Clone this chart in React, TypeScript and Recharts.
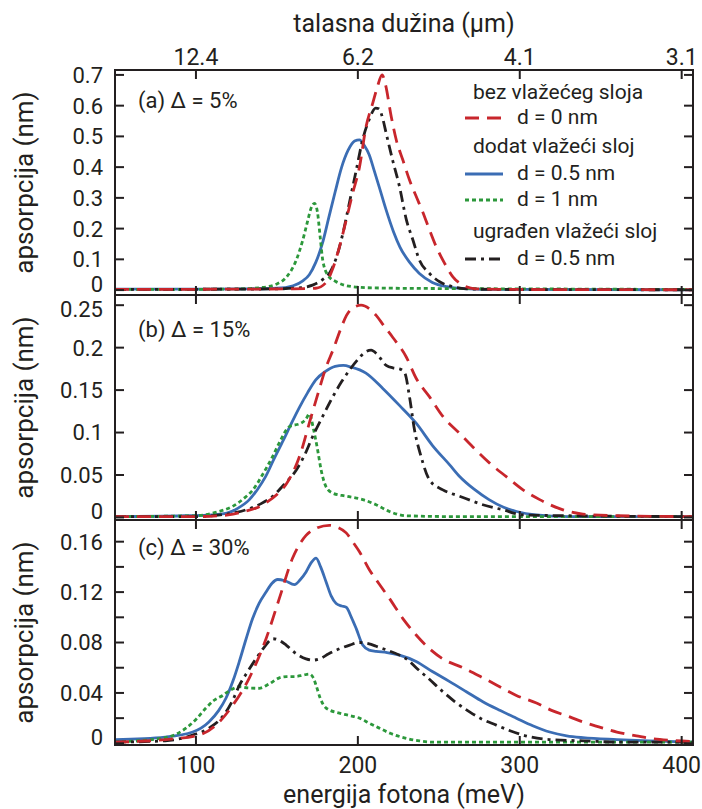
import React from 'react';
import { LineChart, Line, XAxis, YAxis } from 'recharts';

type Pt = [number, number];

// energy axis (meV) and the matching wavelength labels (µm) on the top axis
const energyTicks = [100, 200, 300, 400];
const wavelengthLabels = ['12.4', '6.2', '4.1', '3.1'];

const aTicks = [0, 0.1, 0.2, 0.3, 0.4, 0.5, 0.6, 0.7];
const aTickLabels = ['0', '0.1', '0.2', '0.3', '0.4', '0.5', '0.6', '0.7'];
const bTicks = [0, 0.05, 0.1, 0.15, 0.2, 0.25];
const bTickLabels = ['0', '0.05', '0.1', '0.15', '0.2', '0.25'];
const cTicks = [0, 0.02, 0.04, 0.06, 0.08, 0.1, 0.12, 0.14, 0.16];
const cTickLabels = ['0', '', '0.04', '', '0.08', '', '0.12', '', '0.16'];

const panelLabels = ['(a) Δ = 5%', '(b) Δ = 15%', '(c) Δ = 30%'];

// panel (a), Δ = 5%  — [energy meV, absorption nm]
const aBare: Pt[] = [[50, 0.002], [120, 0.003], [160, 0.004], [174, 0.006], [180.4, 0.025], [184.5, 0.07], [188.6, 0.14], [192.8, 0.228], [196.8, 0.315], [201, 0.4], [205, 0.53], [209.2, 0.608], [212, 0.66], [215, 0.7], [217, 0.67], [220.6, 0.565], [223.7, 0.489], [227.8, 0.423], [231.9, 0.358], [236, 0.305], [240, 0.255], [244.3, 0.195], [248.4, 0.141], [253.6, 0.087], [258.7, 0.043], [264.9, 0.016], [273, 0.004], [300, 0.002], [407, 0.001]];
const aAdded05: Pt[] = [[50, 0.003], [100, 0.003], [130, 0.004], [150, 0.006], [160, 0.014], [166, 0.03], [170, 0.05], [174, 0.09], [178, 0.15], [182, 0.235], [186, 0.32], [190, 0.4], [194, 0.455], [198, 0.485], [201, 0.489], [204, 0.47], [207, 0.44], [210, 0.39], [213.5, 0.33], [217.5, 0.26], [222, 0.19], [226, 0.14], [232, 0.09], [238, 0.054], [246, 0.025], [255, 0.011], [265, 0.005], [290, 0.002], [407, 0.001]];
const aAdded1: Pt[] = [[50, 0.002], [120, 0.003], [140, 0.008], [150, 0.02], [156, 0.043], [162, 0.098], [166, 0.163], [169, 0.225], [171, 0.265], [173.2, 0.282], [175, 0.255], [176.7, 0.174], [178.3, 0.098], [181.4, 0.049], [186.6, 0.027], [197, 0.011], [210, 0.007], [250, 0.005], [300, 0.004], [407, 0.002]];
const aEmbedded05: Pt[] = [[50, 0.002], [120, 0.003], [150, 0.004], [165, 0.008], [172, 0.016], [178, 0.033], [183, 0.06], [187, 0.11], [191, 0.19], [195, 0.29], [199, 0.39], [203, 0.49], [207, 0.555], [211, 0.592], [213, 0.59], [215.5, 0.555], [217.5, 0.51], [221.6, 0.42], [225.7, 0.337], [229.9, 0.23], [234, 0.163], [238, 0.098], [244.3, 0.054], [250.5, 0.027], [258.7, 0.011], [267, 0.004], [290, 0.002], [407, 0.001]];

// panel (b), Δ = 15%
const bBare: Pt[] = [[50, 0.001], [100, 0.001], [120, 0.003], [130, 0.007], [137, 0.011], [143, 0.017], [150, 0.027], [156, 0.04], [164, 0.072], [170, 0.111], [176, 0.15], [180, 0.175], [185, 0.199], [190, 0.225], [193, 0.238], [197, 0.247], [202, 0.25], [207, 0.246], [211.3, 0.238], [216, 0.226], [221.6, 0.212], [229.9, 0.189], [236, 0.164], [244.3, 0.142], [252.5, 0.119], [262.8, 0.099], [271, 0.083], [281.4, 0.064], [291.7, 0.048], [302, 0.0325], [312.3, 0.021], [326.7, 0.009], [339, 0.004], [360, 0.002], [407, 0.001]];
const bAdded05: Pt[] = [[50, 0.001], [93, 0.002], [110, 0.003], [119, 0.005], [126, 0.011], [133, 0.021], [138, 0.033], [143, 0.048], [148, 0.068], [154, 0.091], [159, 0.111], [164, 0.13], [169, 0.147], [174, 0.162], [180, 0.172], [186, 0.178], [191, 0.179], [196, 0.177], [205, 0.17], [215.4, 0.152], [225.7, 0.132], [236, 0.111], [246, 0.085], [256.7, 0.062], [263, 0.048], [272, 0.033], [281, 0.021], [290, 0.012], [298, 0.007], [310, 0.003], [330, 0.001], [407, 0.001]];
const bAdded1: Pt[] = [[50, 0.001], [100, 0.002], [112, 0.006], [122.6, 0.013], [130, 0.023], [135, 0.032], [141, 0.05], [147.4, 0.072], [152, 0.09], [157.7, 0.107], [164.9, 0.111], [168, 0.116], [170.1, 0.122], [172.5, 0.105], [175.2, 0.079], [177.3, 0.056], [180.4, 0.036], [184.5, 0.0286], [192.8, 0.025], [203, 0.021], [211.3, 0.015], [219.5, 0.007], [229.9, 0.002], [260, 0.001], [407, 0.001]];
const bEmbedded05: Pt[] = [[50, 0.001], [100, 0.001], [115, 0.003], [125, 0.006], [131, 0.009], [140, 0.016], [147.4, 0.025], [155, 0.04], [162, 0.056], [167, 0.073], [172, 0.095], [178, 0.118], [184.5, 0.142], [190, 0.16], [195, 0.174], [200, 0.186], [204, 0.194], [208.2, 0.197], [212, 0.192], [217.5, 0.179], [222, 0.176], [225.7, 0.175], [229, 0.17], [231.9, 0.142], [235, 0.103], [239, 0.072], [244.3, 0.044], [252.5, 0.0325], [262.8, 0.025], [277.2, 0.015], [289.6, 0.009], [302, 0.003], [330, 0.002], [407, 0.001]];

// panel (c), Δ = 30%
const cBare: Pt[] = [[50, 0.001], [81.5, 0.003], [102, 0.0066], [112.4, 0.0145], [122.6, 0.03], [133, 0.052], [143.3, 0.083], [151.5, 0.115], [159.7, 0.147], [168, 0.165], [175, 0.171], [182.4, 0.173], [188, 0.171], [192.8, 0.167], [196.8, 0.16], [201, 0.152], [207, 0.138], [213.4, 0.126], [219.5, 0.115], [227.8, 0.099], [236, 0.086], [244.3, 0.075], [252.5, 0.067], [264.9, 0.06], [277.2, 0.052], [287.6, 0.045], [297.9, 0.038], [310.3, 0.032], [320, 0.026], [330.9, 0.021], [339, 0.017], [351.5, 0.012], [360, 0.009], [372.1, 0.006], [380.3, 0.004], [392.7, 0.0024], [407, 0.0015]];
const cAdded05: Pt[] = [[50, 0.003], [81, 0.005], [98, 0.009], [108, 0.017], [114, 0.026], [118.6, 0.036], [123, 0.05], [126.8, 0.065], [131, 0.083], [135, 0.099], [139, 0.111], [143.3, 0.12], [147, 0.127], [150.5, 0.13], [155, 0.129], [160.8, 0.126], [164.5, 0.13], [168, 0.136], [171, 0.143], [174.2, 0.147], [177, 0.14], [180.4, 0.128], [183.5, 0.117], [186.6, 0.111], [190, 0.109], [192.8, 0.108], [196, 0.1], [199, 0.091], [203, 0.078], [207, 0.074], [211.3, 0.073], [218, 0.072], [225.7, 0.07], [236, 0.065], [246, 0.057], [256.7, 0.049], [267, 0.041], [277.2, 0.033], [288, 0.026], [297.9, 0.02], [308, 0.014], [318.5, 0.009], [329, 0.006], [339, 0.0045], [360, 0.003], [380, 0.002], [407, 0.001]];
const cAdded1: Pt[] = [[50, 0.001], [81, 0.0045], [93.8, 0.012], [100, 0.019], [106.2, 0.028], [111, 0.034], [116.5, 0.038], [121, 0.042], [126.8, 0.045], [132, 0.044], [139, 0.0437], [145, 0.047], [151.5, 0.052], [156, 0.053], [161, 0.053], [166, 0.054], [170, 0.055], [172.5, 0.052], [174.2, 0.046], [177, 0.035], [180.4, 0.028], [188.6, 0.024], [195, 0.022], [201, 0.02], [207, 0.016], [213.4, 0.012], [220, 0.008], [229.9, 0.004], [238, 0.002], [246, 0.001], [407, 0.001]];
const cEmbedded05: Pt[] = [[50, 0.001], [81, 0.002], [98, 0.0066], [108, 0.012], [118.6, 0.025], [123, 0.035], [126.8, 0.046], [132, 0.057], [137, 0.067], [142, 0.076], [147.4, 0.083], [151, 0.082], [155.7, 0.078], [161, 0.072], [168, 0.067], [172, 0.066], [176.3, 0.067], [182, 0.071], [188.6, 0.075], [195, 0.078], [201, 0.08], [207, 0.079], [211.3, 0.077], [218, 0.074], [225.7, 0.07], [231, 0.066], [236, 0.06], [244, 0.051], [252.5, 0.041], [260, 0.033], [269, 0.025], [277, 0.019], [285.5, 0.0145], [294, 0.01], [301.9, 0.0066], [318, 0.003], [340, 0.002], [360, 0.001], [407, 0.001]];

// layout
const WIDTH = 702;
const HEIGHT = 809;
const LEFT = 115;
const RIGHT = 693;
const PANEL_H = 225;
const TOPS = [70, 295, 520];
const TICK = 9;
const AXIS_W = 30;
const INK = '#231f20';
const FONT = 'Roboto, sans-serif';
const X_DOMAIN: [number, number] = [50, 407];

const STYLE = {
  added05: { color: '#3b6db4', dash: undefined as string | undefined },
  added1: { color: '#2c983b', dash: '4 3' },
  embedded05: { color: '#231f20', dash: '11 5 3 5' },
  bare: { color: '#c8262c', dash: '14 8' },
};
type Key = keyof typeof STYLE;

const panels = [
  { domain: [-0.016, 0.716], ticks: aTicks, tickLabels: aTickLabels, data: { added05: aAdded05, added1: aAdded1, embedded05: aEmbedded05, bare: aBare } },
  { domain: [-0.003, 0.262], ticks: bTicks, tickLabels: bTickLabels, data: { added05: bAdded05, added1: bAdded1, embedded05: bEmbedded05, bare: bBare } },
  { domain: [-0.0013, 0.1772], ticks: cTicks, tickLabels: cTickLabels, data: { added05: cAdded05, added1: cAdded1, embedded05: cEmbedded05, bare: cBare } },
];

const drawOrder: Key[] = ['added05', 'added1', 'embedded05', 'bare'];

const textStyle = { fontFamily: FONT, fill: INK };

function Panel({ idx }: { idx: number }) {
  const p = panels[idx];
  const top = TOPS[idx];
  const bottom = top + PANEL_H;
  const topTick = p.ticks[p.ticks.length - 1];

  const renderYTick = (props: any) => {
    const { y, payload } = props;
    const i = p.ticks.indexOf(payload.value);
    const label = i >= 0 ? p.tickLabels[i] : '';
    // zero labels sit a little high, top labels of lower panels a little low, like the original
    let ly = y;
    if (payload.value === 0) ly = y - 6;
    else if (idx === 1 && payload.value === topTick) ly = y + 4;
    return (
      <g>
        <line x1={LEFT} x2={LEFT + TICK} y1={y} y2={y} stroke={INK} strokeWidth={2} />
        <line x1={RIGHT - TICK} x2={RIGHT} y1={y} y2={y} stroke={INK} strokeWidth={2} />
        {label && (
          <text x={LEFT - 12} y={ly} dy="0.36em" textAnchor="end" fontSize={22} style={textStyle}>
            {label}
          </text>
        )}
      </g>
    );
  };

  const renderXTick = (props: any) => {
    const { x, payload } = props;
    const i = energyTicks.indexOf(payload.value);
    return (
      <g>
        <line x1={x} x2={x} y1={bottom} y2={bottom - TICK} stroke={INK} strokeWidth={2} />
        <line x1={x} x2={x} y1={top} y2={top + TICK} stroke={INK} strokeWidth={2} />
        {idx === 2 && (
          <text x={x} y={773} textAnchor="middle" fontSize={23} style={textStyle}>
            {payload.value}
          </text>
        )}
        {idx === 0 && (
          <text x={x} y={65} textAnchor="middle" fontSize={23} style={textStyle}>
            {wavelengthLabels[i]}
          </text>
        )}
      </g>
    );
  };

  return (
    <div style={{ position: 'absolute', left: 0, top: 0 }}>
      <LineChart
        width={WIDTH}
        height={HEIGHT}
        margin={{ top, bottom: HEIGHT - bottom - AXIS_W, left: LEFT - AXIS_W, right: WIDTH - RIGHT }}
      >
        <XAxis
          type="number"
          dataKey="e"
          domain={X_DOMAIN}
          ticks={energyTicks}
          allowDataOverflow
          interval={0}
          height={AXIS_W}
          axisLine={false}
          tickLine={false}
          tick={renderXTick}
        />
        <YAxis
          type="number"
          domain={p.domain}
          ticks={p.ticks}
          allowDataOverflow
          interval={0}
          width={AXIS_W}
          axisLine={false}
          tickLine={false}
          tick={renderYTick}
        />
        {drawOrder.map((k) => (
          <Line
            key={k}
            data={p.data[k].map(([e, v]) => ({ e, v }))}
            dataKey="v"
            type="monotone"
            stroke={STYLE[k].color}
            strokeWidth={2.8}
            strokeDasharray={STYLE[k].dash}
            dot={false}
            activeDot={false}
            isAnimationActive={false}
          />
        ))}
      </LineChart>
    </div>
  );
}

const legendRows: { kind: 'head' | 'entry'; text: string; key?: Key; y: number }[] = [
  { kind: 'head', text: 'bez vlažećeg sloja', y: 99 },
  { kind: 'entry', text: 'd = 0 nm', key: 'bare', y: 124 },
  { kind: 'head', text: 'dodat vlažeći sloj', y: 153 },
  { kind: 'entry', text: 'd = 0.5 nm', key: 'added05', y: 180 },
  { kind: 'entry', text: 'd = 1 nm', key: 'added1', y: 206 },
  { kind: 'head', text: 'ugrađen vlažeći sloj', y: 238 },
  { kind: 'entry', text: 'd = 0.5 nm', key: 'embedded05', y: 265 },
];

function Overlay() {
  const cx = (LEFT + RIGHT) / 2;
  return (
    <svg width={WIDTH} height={HEIGHT} style={{ position: 'absolute', left: 0, top: 0, pointerEvents: 'none' }}>
      <rect x={LEFT} y={TOPS[0]} width={RIGHT - LEFT} height={PANEL_H * 3} fill="none" stroke={INK} strokeWidth={2} />
      <line x1={LEFT} x2={RIGHT} y1={TOPS[1]} y2={TOPS[1]} stroke={INK} strokeWidth={2} />
      <line x1={LEFT} x2={RIGHT} y1={TOPS[2]} y2={TOPS[2]} stroke={INK} strokeWidth={2} />

      <text x={cx} y={32} textAnchor="middle" fontSize={25} style={textStyle}>talasna dužina (μm)</text>
      <text x={cx} y={803} textAnchor="middle" fontSize={25} style={textStyle}>energija fotona (meV)</text>
      {TOPS.map((t, i) => (
        <text
          key={i}
          transform={`translate(33, ${t + PANEL_H / 2}) rotate(-90)`}
          textAnchor="middle"
          fontSize={26}
          style={textStyle}
        >
          apsorpcija (nm)
        </text>
      ))}
      {panelLabels.map((s, i) => (
        <text key={s} x={138} y={[108, 337, 555][i]} fontSize={22} style={textStyle}>{s}</text>
      ))}

      {legendRows.map((r, i) =>
        r.kind === 'head' ? (
          <text key={i} x={473} y={r.y} fontSize={21} style={textStyle}>{r.text}</text>
        ) : (
          <g key={i}>
            <line
              x1={465}
              x2={503}
              y1={r.y - 6}
              y2={r.y - 6}
              stroke={STYLE[r.key!].color}
              strokeWidth={2.8}
              strokeDasharray={STYLE[r.key!].dash}
            />
            <text x={517} y={r.y} fontSize={21} style={textStyle}>{r.text}</text>
          </g>
        ),
      )}
    </svg>
  );
}

export default function App() {
  return (
    <div style={{ position: 'absolute', left: 0, top: 0, width: WIDTH, height: HEIGHT, background: '#fff' }}>
      <Panel idx={0} />
      <Panel idx={1} />
      <Panel idx={2} />
      <Overlay />
    </div>
  );
}
